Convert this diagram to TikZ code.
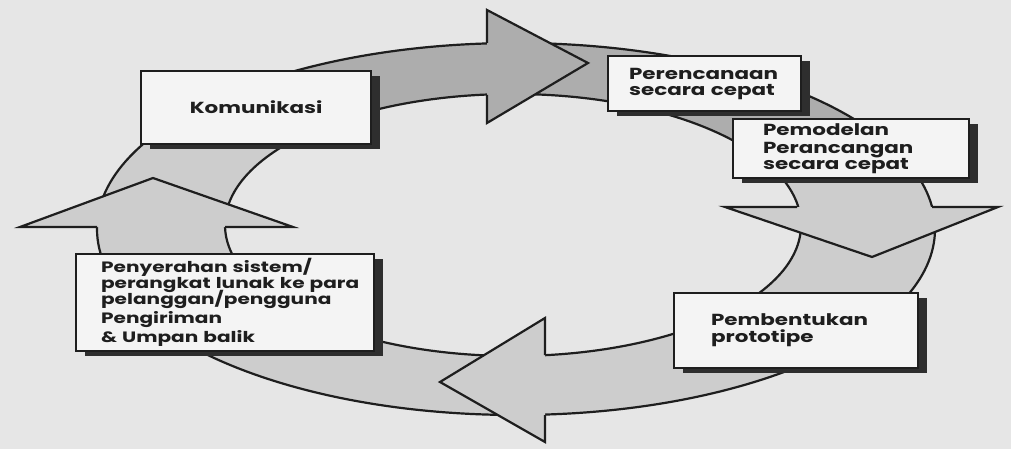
\documentclass[tikz,border=0pt]{standalone}
\usepackage{fontspec}
\setmainfont{Poppins}[FakeStretch=1.34]
\usetikzlibrary{shadows}
\definecolor{pagebg}{HTML}{E6E6E6}
\definecolor{bandlight}{HTML}{CDCDCD}
\definecolor{banddark}{HTML}{ADADAD}
\definecolor{boxfill}{HTML}{F4F4F4}
\definecolor{shadowc}{HTML}{2E2E2E}
\definecolor{inkc}{HTML}{1E1E1E}
\newcommand\tightlines{\lineskiplimit=-20pt\relax\lineskip=0pt\relax}
\begin{document}
\begin{tikzpicture}[x=1pt,y=-1pt,
  edge/.style={draw=inkc, line width=2.2pt, line join=miter},
  headlight/.style={edge, fill=bandlight},
  headdark/.style={edge, fill=banddark},
  stage/.style={draw=inkc, line width=2.2pt, fill=boxfill, anchor=north west,
    inner ysep=0pt, text=inkc, align=left,
    font=\bfseries\fontsize{16}{15}\selectfont,
    execute at begin node=\tightlines,
    drop shadow={shadow xshift=9pt, shadow yshift=-5pt, fill=shadowc, opacity=1}},
]
\useasboundingbox (0,0) rectangle (1011,449);
\fill[pagebg] (0,0) rectangle (1011,449);

% ring band
\fill[bandlight, even odd rule]
  (516,229) ellipse [x radius=419pt, y radius=186pt]
  (513,225) ellipse [x radius=288pt, y radius=131pt];
\begin{scope}
  \clip (290,-10) rectangle (1011,150);
  \fill[banddark, even odd rule]
    (516,229) ellipse [x radius=419pt, y radius=186pt]
    (513,225) ellipse [x radius=288pt, y radius=131pt];
\end{scope}
\draw[edge] (516,229) ellipse [x radius=419pt, y radius=186pt];
\draw[edge] (513,225) ellipse [x radius=288pt, y radius=131pt];

% arrowheads
\filldraw[headdark]  (487,43) -- (487,10) -- (588,63) -- (487,123) -- (487,95);
\filldraw[headlight] (797,207) -- (725,207) -- (872,257) -- (998,207) -- (932,207);
\filldraw[headlight] (545,355) -- (545,318) -- (440,382) -- (545,442) -- (545,415);
\filldraw[headlight] (97,227) -- (20,227) -- (153,178) -- (293,227) -- (225,227);

% stage boxes
\node[stage, align=center, minimum width=230pt, minimum height=73pt] (kom) at (140,70) {Komunikasi};
\node[stage, minimum width=193pt, minimum height=55pt, text width=151pt, inner xsep=21pt] (plan) at (607,55)
  {\mbox{Perencanaan}\\[1pt]\mbox{secara cepat}};
\node[stage, minimum width=236pt, minimum height=59pt, text width=176pt, inner xsep=30pt,
      font=\bfseries\fontsize{16}{16}\selectfont] (model) at (732,118)
  {\mbox{Pemodelan}\\[2pt]\mbox{Perancangan}\\\mbox{secara cepat}};
\node[stage, minimum width=244pt, minimum height=75pt, text width=170pt, inner xsep=37pt] (proto) at (673,292)
  {\mbox{Pembentukan}\\[2pt]\mbox{prototipe}};
\node[stage, minimum width=298pt, minimum height=97pt, text width=248pt, inner xsep=25pt,
      font=\bfseries\fontsize{15}{16}\selectfont] (deliv) at (75,253)
  {\mbox{Penyerahan sistem/}\\\mbox{perangkat lunak ke para}\\\mbox{pelanggan/pengguna}\\[3pt]\mbox{Pengiriman}\\[3pt]\mbox{\& Umpan balik}};
\end{tikzpicture}
\end{document}
